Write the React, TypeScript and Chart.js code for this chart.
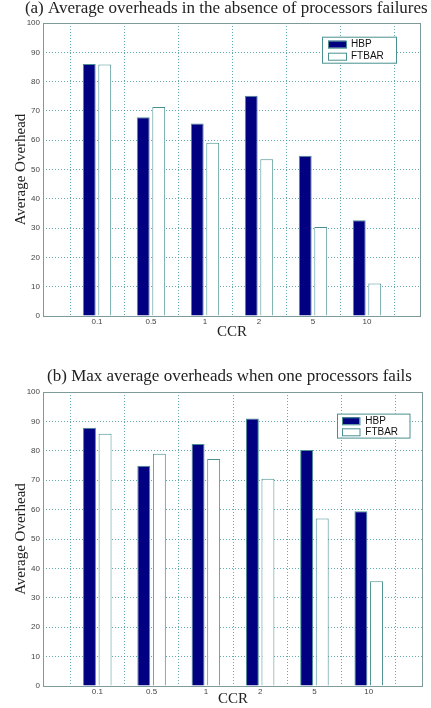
import { useEffect, useRef } from 'react';
import { Chart, registerables } from 'chart.js';
Chart.register(...registerables);

const categories = ['0.1', '0.5', '1', '2', '5', '10'];
const seriesNames = ['HBP', 'FTBAR'];
const hbpA = [86.0, 67.8, 65.7, 75.2, 54.7, 32.7];
const ftbarA = [85.8, 71.3, 59.1, 53.5, 30.4, 11.1];
const hbpB = [87.8, 74.9, 82.3, 91.0, 80.3, 59.4];
const ftbarB = [85.8, 79.0, 77.2, 70.5, 57.0, 35.6];
const yMin = 0;
const yMax = 100;
const yStep = 10;
const titleA = '(a) Average overheads in the absence of processors failures';
const titleB = '(b) Max average overheads when one processors fails';
const xTitle = 'CCR';
const yTitle = 'Average Overhead';

const NAVY = '#000080';
const EDGE = '#4a9090';
const GRID = 'rgba(60,150,150,0.8)';
const FRAME = '#7f9a9a';
const SERIF = '"Liberation Serif", "Times New Roman", serif';
const SANS = '"Liberation Sans", Arial, sans-serif';

const framePlugin = {
  id: 'frameBox',
  afterDraw(chart: any) {
    const { ctx, chartArea: a } = chart;
    ctx.save();
    ctx.strokeStyle = FRAME;
    ctx.lineWidth = 1;
    ctx.strokeRect(a.left + 0.5, a.top + 0.5, a.right - a.left - 1, a.bottom - a.top);
    ctx.restore();
  },
};

const headPlugin = {
  id: 'headTitle',
  afterDraw(chart: any, _args: any, opts: any) {
    const { ctx, chartArea: a } = chart;
    ctx.save();
    ctx.font = opts.size + 'px ' + SERIF;
    ctx.fillStyle = '#222';
    ctx.textAlign = 'center';
    ctx.textBaseline = 'middle';
    ctx.fillText(opts.text, (a.left + a.right) / 2 + opts.dx, a.top + opts.dy);
    ctx.restore();
  },
};

const boxLegendPlugin = {
  id: 'boxLegend',
  afterDraw(chart: any, _args: any, opts: any) {
    const { ctx, chartArea: a } = chart;
    const x = a.right + opts.dx;
    const y = a.top + opts.dy;
    ctx.save();
    ctx.fillStyle = '#fff';
    ctx.fillRect(x, y, opts.w, opts.h);
    ctx.strokeStyle = EDGE;
    ctx.lineWidth = 1;
    ctx.strokeRect(x + 0.5, y + 0.5, opts.w, opts.h);
    ctx.font = '10px ' + SANS;
    ctx.textBaseline = 'middle';
    chart.data.datasets.forEach((ds: any, i: number) => {
      const cy = y + opts.row0 + i * opts.rowGap;
      ctx.fillStyle = ds.backgroundColor;
      ctx.fillRect(x + opts.sx, cy - 3.5, opts.sw, 7);
      ctx.strokeStyle = EDGE;
      ctx.strokeRect(x + opts.sx + 0.5, cy - 3.5 + 0.5, opts.sw, 7);
      ctx.fillStyle = '#111';
      ctx.fillText(ds.label, x + opts.tx, cy + 0.5);
    });
    ctx.restore();
  },
};

function makeConfig(p: any) {
  const labels = ['', ...categories, ''];
  return {
    type: 'bar',
    data: {
      labels,
      datasets: [
        {
          label: seriesNames[0],
          data: [null, ...p.hbp, null],
          backgroundColor: NAVY,
          borderColor: EDGE,
          borderWidth: 1,
          categoryPercentage: 0.574,
          barPercentage: 0.83,
        },
        {
          label: seriesNames[1],
          data: [null, ...p.ftbar, null],
          backgroundColor: '#ffffff',
          borderColor: EDGE,
          borderWidth: 1,
          categoryPercentage: 0.574,
          barPercentage: 0.83,
        },
      ],
    },
    options: {
      responsive: false,
      animation: false,
      layout: { padding: { top: p.padTop, right: p.padRight, bottom: 0, left: 0 } },
      plugins: {
        legend: { display: false },
        tooltip: { enabled: false },
        title: { display: false },
        headTitle: p.head,
        boxLegend: p.legend,
      },
      scales: {
        x: {
          type: 'category',
          offset: false,
          afterFit: (s: any) => {
            s.height = p.xHeight;
          },
          grid: { color: GRID, lineWidth: 1, drawTicks: false },
          border: { display: false, dash: [1, 2] },
          ticks: {
            autoSkip: false,
            maxRotation: 0,
            padding: p.xTickPad,
            color: '#444',
            font: { family: SANS, size: 8 },
          },
          title: {
            display: true,
            text: xTitle,
            color: '#222',
            font: { family: SERIF, size: 15 },
            padding: { top: 0, bottom: p.xTitlePad },
          },
        },
        y: {
          min: yMin,
          max: yMax,
          afterFit: (s: any) => {
            s.width = 43;
          },
          grid: { color: GRID, lineWidth: 1, drawTicks: false },
          border: { display: false, dash: [1, 2] },
          ticks: {
            stepSize: yStep,
            padding: 3,
            color: '#444',
            font: { family: SANS, size: 8 },
          },
          title: {
            display: true,
            text: yTitle,
            color: '#222',
            font: { family: SERIF, size: 15 },
            padding: { top: 12, bottom: 0 },
          },
        },
      },
    },
    plugins: [framePlugin, boxLegendPlugin, headPlugin],
  };
}

function BarChart(props: any) {
  const ref = useRef<HTMLCanvasElement>(null);
  useEffect(() => {
    const chart = new Chart(ref.current as any, makeConfig(props.cfg) as any);
    return () => chart.destroy();
  }, []);
  return <canvas ref={ref} width={431} height={props.height} style={{ display: 'block' }} />;
}

const cfgA = {
  hbp: hbpA,
  ftbar: ftbarA,
  head: { text: titleA, size: 17, dx: -5.7, dy: -14 },
  padTop: 23,
  padRight: 10,
  xHeight: 29,
  xTickPad: 1,
  xTitlePad: 4.3,
  legend: { dx: -99, dy: 13.7, w: 74, h: 26, sx: 6, sw: 18, row0: 7.5, rowGap: 12, tx: 29 },
};

const cfgB = {
  hbp: hbpB,
  ftbar: ftbarB,
  head: { text: titleB, size: 17, dx: -3.5, dy: -15 },
  padTop: 47,
  padRight: 8,
  xHeight: 22,
  xTickPad: 1.2,
  xTitlePad: 0,
  legend: { dx: -86, dy: 21.6, w: 72.5, h: 24, sx: 5, sw: 17.5, row0: 7.2, rowGap: 11, tx: 28.3 },
};

export default function App() {
  return (
    <div style={{ position: 'absolute', left: 0, top: 0, width: 431, height: 708, background: '#fff' }}>
      <BarChart cfg={cfgA} height={345} />
      <BarChart cfg={cfgB} height={363} />
    </div>
  );
}
